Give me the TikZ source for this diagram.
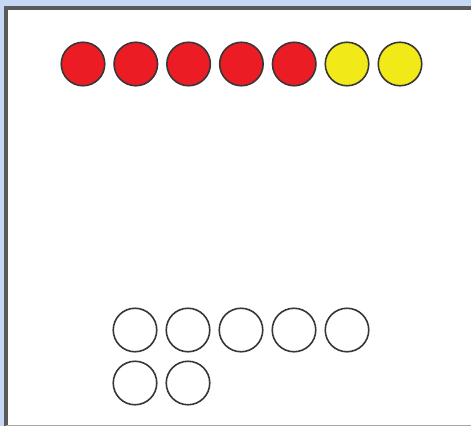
\documentclass[tikz,border=0pt]{standalone}
\usepackage{xcolor}
\usepackage{tikz}
\usetikzlibrary{positioning}
\definecolor{framebg}{RGB}{198, 216, 244}
\definecolor{framegray}{RGB}{90, 90, 90}
\definecolor{tokred}{RGB}{236, 28, 36}
\definecolor{tokyellow}{RGB}{242, 234, 24}
\definecolor{tokline}{RGB}{55, 55, 55}

\begin{document}
\begin{tikzpicture}[x=1pt, y=-1pt,
    token/.style={circle, draw=tokline, line width=1.6pt, minimum size=43.5pt, inner sep=0pt},
    redtok/.style={token, fill=tokred},
    yellowtok/.style={token, fill=tokyellow},
    emptytok/.style={token, fill=white}]
        \useasboundingbox (0, 0) rectangle (471, 426);
        % frame
        \fill[framebg] (0, 0) rectangle (471, 426);
        \fill[white] (6, 8) rectangle (471, 425);
        \draw[framegray, line width=3.5pt] (6, 426) -- (6, 8) -- (471, 8);
        \draw[gray!70, line width=1pt] (6, 425.5) -- (471, 425.5);
        % top row
        \foreach \i in {1,...,5}
            \node[redtok] (red\i) at ({83 + 52.8*(\i-1)}, 64) {};
        \foreach \i in {1,2}
            \node[yellowtok] (yellow\i) at ({347 + 53*(\i-1)}, 64) {};
        % bottom rows
        \foreach \i in {1,...,5}
            \node[emptytok] (slot\i) at ({135 + 53*(\i-1)}, 330) {};
        \node[emptytok] (slot6) at (135, 383) {};
        \node[emptytok] (slot7) at (188, 383) {};
    \end{tikzpicture}
\end{document}
